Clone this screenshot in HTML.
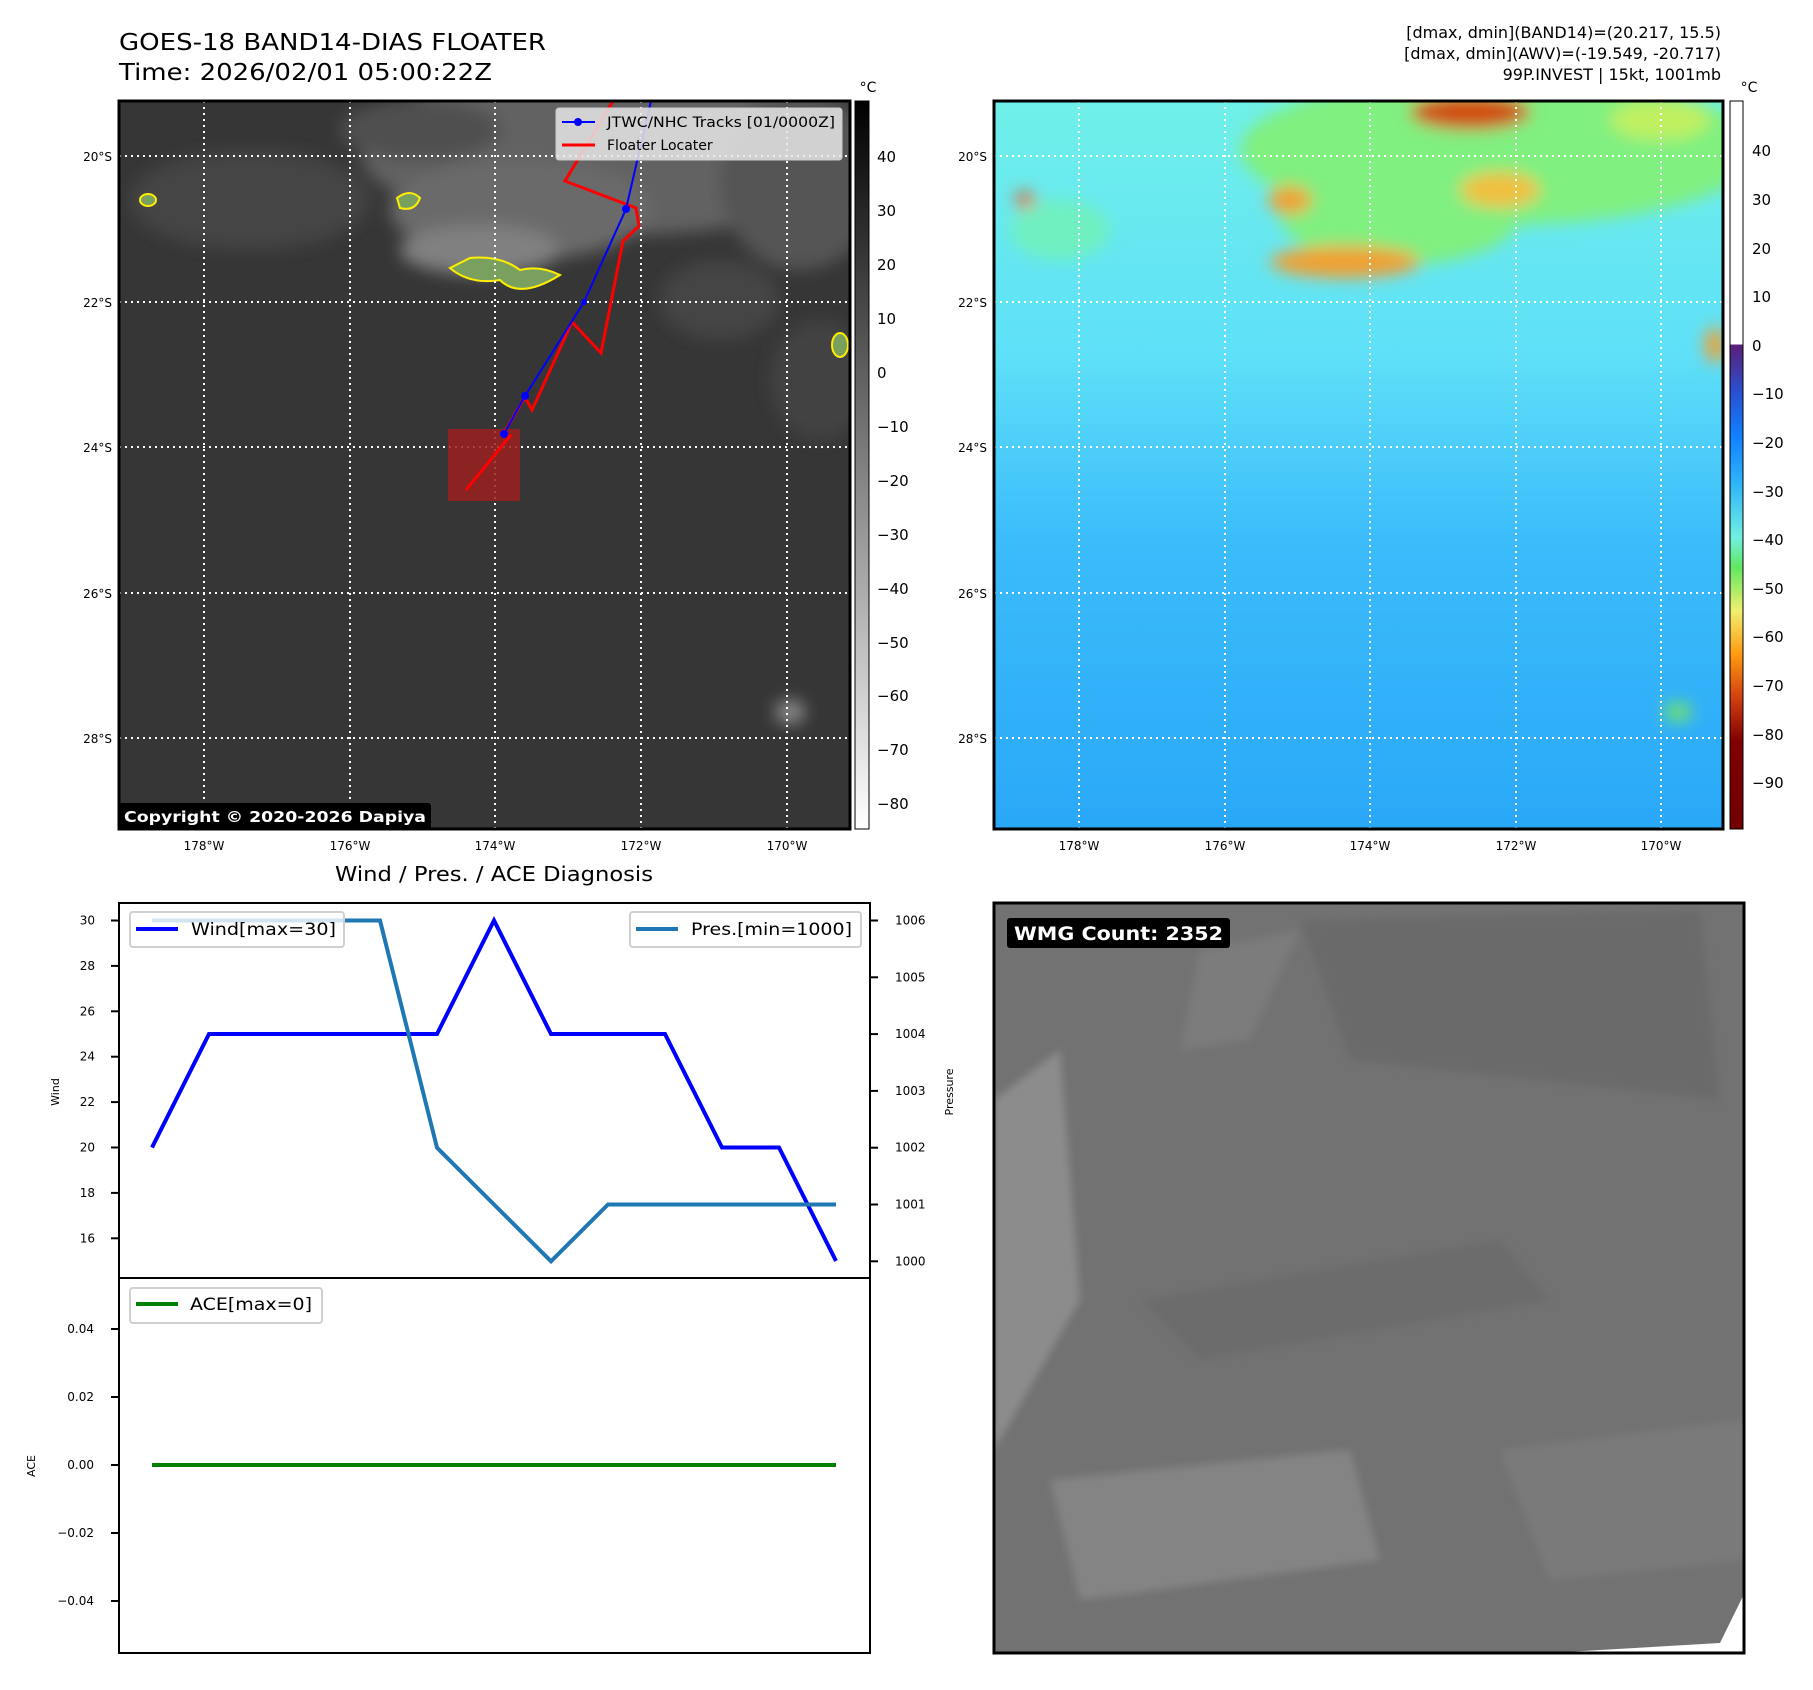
<!DOCTYPE html>
<html><head><meta charset="utf-8"><style>
html,body{margin:0;padding:0;background:#fff}
svg{display:block;font-family:"DejaVu Sans","Liberation Sans",sans-serif}
</style></head><body>
<svg id="fig" width="1813" height="1690" viewBox="0 0 1813 1690">
<defs>
<filter id="b8"><feGaussianBlur stdDeviation="8"/></filter>
<filter id="b4"><feGaussianBlur stdDeviation="4"/></filter>
<linearGradient id="gray" x1="0" y1="0" x2="0" y2="1"><stop offset="0" stop-color="#000"/><stop offset="1" stop-color="#fff"/></linearGradient>
<linearGradient id="awv" x1="0" y1="0" x2="0" y2="1">
<stop offset="0" stop-color="#fff"/><stop offset="0.334" stop-color="#fff"/>
<stop offset="0.335" stop-color="#5a1e78"/><stop offset="0.40" stop-color="#2a50d0"/><stop offset="0.46" stop-color="#1080ff"/>
<stop offset="0.53" stop-color="#30b8f8"/><stop offset="0.60" stop-color="#70f0e0"/><stop offset="0.64" stop-color="#60e860"/>
<stop offset="0.70" stop-color="#f0f070"/><stop offset="0.76" stop-color="#ff9a10"/><stop offset="0.82" stop-color="#d04010"/>
<stop offset="0.88" stop-color="#800000"/><stop offset="1" stop-color="#700000"/></linearGradient>
<linearGradient id="sea" x1="0" y1="0" x2="0" y2="1"><stop offset="0" stop-color="#70f0e8"/><stop offset="0.35" stop-color="#5ee0f8"/><stop offset="0.6" stop-color="#3cbcfa"/><stop offset="1" stop-color="#2aa8f8"/></linearGradient>
<clipPath id="c1"><rect x="119" y="101" width="731" height="728"/></clipPath>
<clipPath id="c2"><rect x="994" y="101" width="729" height="728"/></clipPath>
<clipPath id="c3"><rect x="994" y="903" width="750" height="750"/></clipPath>
</defs>

<text x="119" y="50" font-size="23" textLength="427" lengthAdjust="spacingAndGlyphs">GOES-18 BAND14-DIAS FLOATER</text>
<text x="119" y="80" font-size="23" textLength="373" lengthAdjust="spacingAndGlyphs">Time: 2026/02/01 05:00:22Z</text>
<g font-size="16" text-anchor="end">
<text x="1721" y="38">[dmax, dmin](BAND14)=(20.217, 15.5)</text>
<text x="1721" y="59">[dmax, dmin](AWV)=(-19.549, -20.717)</text>
<text x="1721" y="80">99P.INVEST | 15kt, 1001mb</text>
</g>

<g>
<rect x="119" y="101" width="731" height="728" fill="#363636"/>
<g clip-path="url(#c1)" filter="url(#b8)">
<ellipse cx="620" cy="150" rx="260" ry="85" fill="#626262"/>
<ellipse cx="520" cy="210" rx="130" ry="50" fill="#6a6a6a"/>
<ellipse cx="480" cy="250" rx="80" ry="25" fill="#808080"/>
<ellipse cx="800" cy="180" rx="80" ry="90" fill="#555"/>
<ellipse cx="250" cy="200" rx="120" ry="50" fill="#454545"/>
<ellipse cx="420" cy="130" rx="80" ry="30" fill="#505050"/>
<ellipse cx="720" cy="300" rx="60" ry="40" fill="#444"/>
<ellipse cx="820" cy="380" rx="50" ry="60" fill="#424242"/>
<ellipse cx="790" cy="712" rx="15" ry="12" fill="#8a8a8a"/>
</g>
<g fill="none" stroke="#ffee00" stroke-width="2" clip-path="url(#c1)">
<path d="M450 268 Q470 285 500 280 Q520 300 560 275 Q540 265 520 270 Q500 255 470 258Z" fill="#7aa060"/>
<path d="M397 198 Q410 188 420 198 Q415 212 400 208Z" fill="#7aa060"/>
<ellipse cx="148" cy="200" rx="8" ry="6" fill="#7aa060"/>
<ellipse cx="840" cy="345" rx="8" ry="12" fill="#7aa060"/>
</g>
</g>
<g stroke="#fff" stroke-width="2" stroke-dasharray="2,4">
<line x1="119" y1="156" x2="850" y2="156"/><line x1="119" y1="302" x2="850" y2="302"/><line x1="119" y1="447" x2="850" y2="447"/><line x1="119" y1="593" x2="850" y2="593"/><line x1="119" y1="738" x2="850" y2="738"/>
<line x1="204" y1="101" x2="204" y2="829"/><line x1="350" y1="101" x2="350" y2="829"/><line x1="495" y1="101" x2="495" y2="829"/><line x1="641" y1="101" x2="641" y2="829"/><line x1="787" y1="101" x2="787" y2="829"/>
</g>
<rect x="448" y="429" width="72" height="72" fill="#9a2020" opacity="0.85"/>
<g clip-path="url(#c1)">
<polyline points="613,101 565,181 636,208 639,226 623,241 601,353 572,322 532,410 525,397 503,435 510,436 466,490" fill="none" stroke="#ff0000" stroke-width="3"/>
<polyline points="651,101 626,209 584,302 525,396 504,434" fill="none" stroke="#0000ff" stroke-width="2"/>
<g fill="#0000ff"><circle cx="626" cy="209" r="4"/><circle cx="584" cy="302" r="3"/><circle cx="525" cy="396" r="4"/><circle cx="504" cy="434" r="4"/></g>
</g>
<rect x="119" y="101" width="731" height="728" fill="none" stroke="#000" stroke-width="3"/>
<g>
<rect x="556" y="108" width="286" height="52" rx="3" fill="#e8e8e8" fill-opacity="0.85" stroke="#ccc"/>
<line x1="562" y1="122" x2="595" y2="122" stroke="#0000ff" stroke-width="2"/><circle cx="578" cy="122" r="4" fill="#0000ff"/>
<line x1="562" y1="145" x2="595" y2="145" stroke="#ff0000" stroke-width="3"/>
<text x="607" y="127" font-size="14" textLength="228" lengthAdjust="spacingAndGlyphs">JTWC/NHC Tracks [01/0000Z]</text>
<text x="607" y="150" font-size="14">Floater Locater</text>
</g>
<rect x="119" y="803" width="312" height="26" rx="3" fill="#000"/>
<text x="124" y="822" font-size="15" font-weight="bold" fill="#fff" textLength="302" lengthAdjust="spacingAndGlyphs">Copyright © 2020-2026 Dapiya</text>
<g font-size="12" text-anchor="end">
<text x="112" y="161">20°S</text><text x="112" y="307">22°S</text><text x="112" y="452">24°S</text><text x="112" y="598">26°S</text><text x="112" y="743">28°S</text></g>
<g font-size="12" text-anchor="middle">
<text x="204" y="850">178°W</text><text x="350" y="850">176°W</text><text x="495" y="850">174°W</text><text x="641" y="850">172°W</text><text x="787" y="850">170°W</text></g>
<rect x="855" y="101" width="14" height="728" fill="url(#gray)" stroke="#000" stroke-width="1"/>
<text x="868" y="92" font-size="14" text-anchor="middle">°C</text>
<g font-size="15">
<text x="877" y="162">40</text><text x="877" y="216">30</text><text x="877" y="270">20</text><text x="877" y="324">10</text><text x="877" y="378">0</text>
<text x="877" y="432">−10</text><text x="877" y="486">−20</text><text x="877" y="540">−30</text><text x="877" y="594">−40</text><text x="877" y="648">−50</text>
<text x="877" y="701">−60</text><text x="877" y="755">−70</text><text x="877" y="809">−80</text></g>

<g>
<rect x="994" y="101" width="729" height="728" fill="url(#sea)"/>
<g clip-path="url(#c2)" filter="url(#b8)">
<ellipse cx="1500" cy="150" rx="260" ry="75" fill="#80f080"/>
<ellipse cx="1400" cy="215" rx="120" ry="50" fill="#80f080"/>
<ellipse cx="1060" cy="230" rx="50" ry="30" fill="#70f0c0"/>
<ellipse cx="1345" cy="262" rx="75" ry="16" fill="#f0a030"/>
<ellipse cx="1470" cy="112" rx="60" ry="18" fill="#d05010"/>
<ellipse cx="1290" cy="200" rx="22" ry="14" fill="#f0a030"/>
<ellipse cx="1500" cy="190" rx="40" ry="18" fill="#f0c040"/>
<ellipse cx="1660" cy="120" rx="50" ry="20" fill="#c0f060"/>
<ellipse cx="1025" cy="200" rx="10" ry="8" fill="#e06020"/>
<ellipse cx="1715" cy="345" rx="10" ry="18" fill="#f0a030"/>
<ellipse cx="1678" cy="712" rx="14" ry="10" fill="#70e070"/>
</g>
</g>
<g stroke="#fff" stroke-width="2" stroke-dasharray="2,4">
<line x1="994" y1="156" x2="1723" y2="156"/><line x1="994" y1="302" x2="1723" y2="302"/><line x1="994" y1="447" x2="1723" y2="447"/><line x1="994" y1="593" x2="1723" y2="593"/><line x1="994" y1="738" x2="1723" y2="738"/>
<line x1="1079" y1="101" x2="1079" y2="829"/><line x1="1225" y1="101" x2="1225" y2="829"/><line x1="1370" y1="101" x2="1370" y2="829"/><line x1="1516" y1="101" x2="1516" y2="829"/><line x1="1661" y1="101" x2="1661" y2="829"/>
</g>
<rect x="994" y="101" width="729" height="728" fill="none" stroke="#000" stroke-width="3"/>
<g font-size="12" text-anchor="end">
<text x="987" y="161">20°S</text><text x="987" y="307">22°S</text><text x="987" y="452">24°S</text><text x="987" y="598">26°S</text><text x="987" y="743">28°S</text></g>
<g font-size="12" text-anchor="middle">
<text x="1079" y="850">178°W</text><text x="1225" y="850">176°W</text><text x="1370" y="850">174°W</text><text x="1516" y="850">172°W</text><text x="1661" y="850">170°W</text></g>
<rect x="1730" y="101" width="13" height="728" fill="url(#awv)" stroke="#000" stroke-width="1"/>
<text x="1749" y="92" font-size="14" text-anchor="middle">°C</text>
<g font-size="15">
<text x="1752" y="156">40</text><text x="1752" y="205">30</text><text x="1752" y="254">20</text><text x="1752" y="302">10</text><text x="1752" y="351">0</text>
<text x="1752" y="399">−10</text><text x="1752" y="448">−20</text><text x="1752" y="497">−30</text><text x="1752" y="545">−40</text><text x="1752" y="594">−50</text>
<text x="1752" y="642">−60</text><text x="1752" y="691">−70</text><text x="1752" y="740">−80</text><text x="1752" y="788">−90</text></g>

<g>
<rect x="994" y="903" width="750" height="750" fill="#727272"/>
<g clip-path="url(#c3)" filter="url(#b4)">
<polygon points="994,1100 1060,1050 1080,1300 994,1450" fill="#8c8c8c"/>
<polygon points="1050,1480 1350,1450 1380,1560 1080,1600" fill="#848484"/>
<polygon points="1200,950 1300,930 1250,1040 1180,1050" fill="#7c7c7c"/>
<polygon points="1300,920 1700,910 1720,1100 1350,1060" fill="#6a6a6a"/>
<polygon points="1140,1300 1500,1240 1550,1300 1200,1360" fill="#6c6c6c"/>
<polygon points="1500,1450 1744,1420 1744,1560 1550,1580" fill="#7a7a7a"/>
</g>
<polygon points="1744,1594 1720,1643 1548,1653 1744,1653" fill="#fff"/>
<rect x="994" y="903" width="750" height="750" fill="none" stroke="#000" stroke-width="3"/>
<rect x="1007" y="918" width="223" height="30" rx="3" fill="#000"/>
<text x="1014" y="940" font-size="19" font-weight="bold" fill="#fff" textLength="209" lengthAdjust="spacingAndGlyphs">WMG Count: 2352</text>
</g>

<text x="494" y="881" font-size="20" text-anchor="middle" textLength="318" lengthAdjust="spacingAndGlyphs">Wind / Pres. / ACE Diagnosis</text>
<rect x="119" y="903" width="751" height="375" fill="none" stroke="#000" stroke-width="2"/>
<rect x="119" y="1278" width="751" height="375" fill="none" stroke="#000" stroke-width="2"/>
<text transform="translate(59,1092) rotate(-90)" font-size="11" text-anchor="middle">Wind</text>
<text transform="translate(35,1466) rotate(-90)" font-size="11" text-anchor="middle">ACE</text>
<text transform="translate(953,1092) rotate(-90)" font-size="11" text-anchor="middle">Pressure</text>
<g id="ticks"></g>
<g id="series"></g>
<g>
<rect x="130" y="912" width="214" height="35" rx="3" fill="#fff" fill-opacity="0.8" stroke="#d0d0d0" stroke-width="2"/>
<line x1="136" y1="929" x2="178" y2="929" stroke="#0000ff" stroke-width="4"/>
<text x="191" y="935" font-size="17" textLength="145" lengthAdjust="spacingAndGlyphs">Wind[max=30]</text></g>
<g>
<rect x="630" y="912" width="231" height="35" rx="3" fill="#fff" fill-opacity="0.8" stroke="#d0d0d0" stroke-width="2"/>
<line x1="636" y1="929" x2="678" y2="929" stroke="#1f77b4" stroke-width="4"/>
<text x="691" y="935" font-size="17" textLength="161" lengthAdjust="spacingAndGlyphs">Pres.[min=1000]</text></g>
<g>
<rect x="130" y="1288" width="192" height="35" rx="3" fill="#fff" fill-opacity="0.8" stroke="#d0d0d0" stroke-width="2"/>
<line x1="136" y1="1304" x2="178" y2="1304" stroke="#008000" stroke-width="4"/>
<text x="190" y="1310" font-size="17" textLength="122" lengthAdjust="spacingAndGlyphs">ACE[max=0]</text></g>
</svg>
<script>
const steps = [0,1,2,3,4,5,6,7,8,9,10,11,12];
const windVals = [20,25,25,25,25,25,30,25,25,25,20,20,15];
const presVals = [1006,1006,1006,1006,1006,1002,1001,1000,1001,1001,1001,1001,1001];
const aceVals = [0,0,0,0,0,0,0,0,0,0,0,0,0];
const windTicks = [16,18,20,22,24,26,28,30];
const presTicks = [1000,1001,1002,1003,1004,1005,1006];
const aceTicks = [-0.04,-0.02,0,0.02,0.04];
const aceTickLabels = ["−0.04","−0.02","0.00","0.02","0.04"];

const NS = "http://www.w3.org/2000/svg";
const xS = i => 152 + i * 57;
const wY = v => 920.5 + (30 - v) * 22.7;
const pY = v => 920.5 + (1006 - v) * 56.8;
const aY = v => 1465 - v * 3400;
function mk(tag, attrs, parent) { const e = document.createElementNS(NS, tag); for (const k in attrs) e.setAttribute(k, attrs[k]); parent.appendChild(e); return e; }
const T = document.getElementById('ticks'), S = document.getElementById('series');
windTicks.forEach(v => {
  const l = mk('line', {x1:111, x2:119, y1:wY(v), y2:wY(v), stroke:'#000', 'stroke-width':2}, T);
  
  
  const t = mk('text', {x:95, y:wY(v)+4, 'font-size':12, 'text-anchor':'end'}, T); t.textContent = v;
  
  
});
presTicks.forEach(v => {
  const l = mk('line', {x1:870, x2:878, y1:pY(v), y2:pY(v), stroke:'#000', 'stroke-width':2}, T);
  
  
  const t = mk('text', {x:895, y:pY(v)+4, 'font-size':12}, T); t.textContent = v;
  
  
});
aceTicks.forEach((v, i) => {
  const l = mk('line', {x1:111, x2:119, y1:aY(v), y2:aY(v), stroke:'#000', 'stroke-width':2}, T);
  
  
  const t = mk('text', {x:94, y:aY(v)+4, 'font-size':12, 'text-anchor':'end'}, T); t.textContent = aceTickLabels[i];
  
  
});
const pw = mk('polyline', {points: steps.map((s,i)=>xS(s)+','+wY(windVals[i])).join(' '), fill:'none', stroke:'#0000ff', 'stroke-width':4}, S);


const pp = mk('polyline', {points: steps.map((s,i)=>xS(s)+','+pY(presVals[i])).join(' '), fill:'none', stroke:'#1f77b4', 'stroke-width':4}, S);


const pa = mk('polyline', {points: steps.map((s,i)=>xS(s)+','+aY(aceVals[i])).join(' '), fill:'none', stroke:'#008000', 'stroke-width':4}, S);


</script>
</body></html>
